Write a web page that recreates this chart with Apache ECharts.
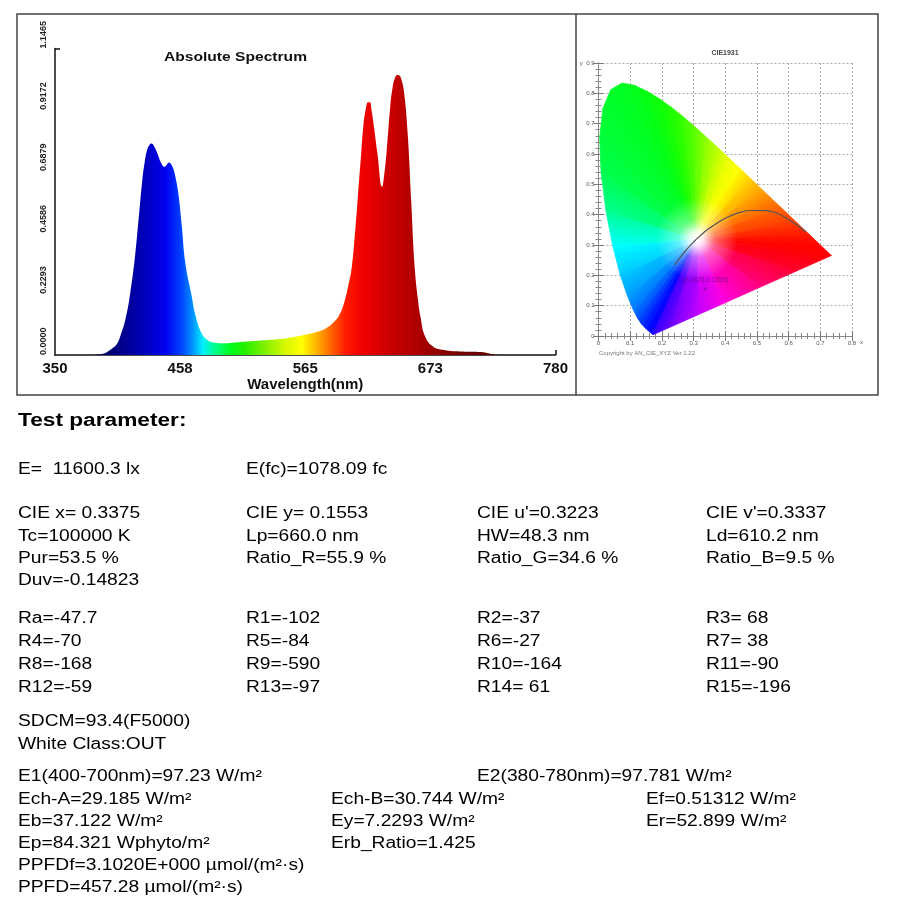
<!DOCTYPE html>
<html>
<head>
<meta charset="utf-8">
<script src="https://cdn.jsdelivr.net/npm/echarts@6/dist/echarts.min.js"></script>
<style>
  html, body { margin: 0; background: #fff; }
  #chart { width: 900px; height: 900px; }
</style>
</head>
<body>
<div id="chart"></div>
<script>
// absolute spectrum: [wavelength nm, value]
const spectrum = [
  [350, 0], [370, 0], [380, 0], [386, 0.002], [392, 0.006], [398, 0.021], [403, 0.04],
  [406, 0.069], [411, 0.143], [415, 0.243], [419, 0.38], [422, 0.517], [425, 0.654],
  [427, 0.72], [429, 0.765], [431, 0.785], [433, 0.791], [435, 0.782], [438, 0.754], [441, 0.72],
  [444, 0.704], [446, 0.712], [448, 0.72], [450, 0.712], [452, 0.692], [454, 0.655], [456, 0.604], [459, 0.48],
  [462, 0.343], [467, 0.23], [471, 0.143], [476, 0.081], [481, 0.056], [487, 0.046],
  [495, 0.044], [505, 0.047], [520, 0.052], [535, 0.057], [550, 0.064], [565, 0.076],
  [575, 0.086], [583, 0.1], [590, 0.125], [594, 0.148], [598, 0.19], [602, 0.26],
  [605, 0.33], [608, 0.47], [610, 0.58], [613, 0.75], [615, 0.86], [617, 0.92], [619, 0.945],
  [620.5, 0.945], [622, 0.915], [624, 0.854], [627, 0.754], [631, 0.629], [633, 0.68], [635, 0.766],
  [638, 0.928], [640, 1.0], [642, 1.035], [644, 1.047], [646, 1.045], [648, 1.025], [650, 0.98], [653, 0.829],
  [656, 0.58], [659, 0.33], [662, 0.2], [664, 0.143], [668, 0.069], [675, 0.031],
  [684, 0.019], [700, 0.013], [716, 0.011], [723, 0.006], [730, 0.001], [740, 0], [780, 0]
];
const xTicks = [350, 457.5, 565, 672.5, 780];
const xTickLabels = ['350', '458', '565', '673', '780'];
const yTicks = [0, 0.2293, 0.4586, 0.6879, 0.9172, 1.1465];
const yTickLabels = ['0.0000', '0.2293', '0.4586', '0.6879', '0.9172', '1.1465'];

// colour of the spectrum fill by wavelength
const specNm = [350, 400, 425, 445, 458, 468, 477, 487, 500, 512, 530, 548, 562, 575, 588, 600, 615, 640, 665, 700, 780];
const specCols = ['#000040', '#000078', '#0000b8', '#0000f0', '#0040ff', '#0090ff', '#00f0ff', '#00ff90', '#00ff20', '#20f000',
  '#80f000', '#d8f800', '#ffff00', '#ffb000', '#ff6000', '#ff1a00', '#f00000', '#c80000', '#a80000', '#700000', '#400000'];

// CIE 1931 spectral locus (380..700 nm) and line of purples
const locusX = [0.1741, 0.1714, 0.1644, 0.1510, 0.1355, 0.1241, 0.1096, 0.0913, 0.0687, 0.0454, 0.0235, 0.0082, 0.0039,
  0.0139, 0.0389, 0.0743, 0.1142, 0.1547, 0.1929, 0.2296, 0.2658, 0.3016, 0.3373, 0.3731, 0.4087, 0.4441, 0.4788,
  0.5125, 0.5448, 0.5752, 0.6270, 0.6658, 0.6915, 0.7190, 0.7347, 0.6226, 0.5105, 0.3983, 0.3143, 0.2302];
const locusY = [0.0050, 0.0051, 0.0109, 0.0227, 0.0399, 0.0578, 0.0868, 0.1327, 0.2007, 0.2950, 0.4127, 0.5384, 0.6548,
  0.7502, 0.8120, 0.8338, 0.8262, 0.8059, 0.7816, 0.7543, 0.7243, 0.6923, 0.6589, 0.6245, 0.5896, 0.5547, 0.5202,
  0.4866, 0.4544, 0.4242, 0.3725, 0.3340, 0.3083, 0.2809, 0.2653, 0.2132, 0.1612, 0.1091, 0.0701, 0.0310];
const locusCols = ['#3000ff', '#2000ff', '#0000ff', '#0010ff', '#0030ff', '#0050ff', '#0078ff', '#00a0ff', '#00c8ff', '#00ffff',
  '#00ff90', '#00ff50', '#00ff38', '#00ff30', '#00ff28', '#00ff20', '#00ff18', '#08ff10', '#10ff08', '#20ff00', '#38ff00',
  '#58ff00', '#88ff00', '#b8ff00', '#e8ff00', '#ffff00', '#ffd000', '#ffa800', '#ff8400', '#ff6400', '#ff3800', '#ff1800',
  '#ff0800', '#ff0000', '#ff0000', '#ff0030', '#ff0080', '#ff00e0', '#c000ff', '#7000ff'];
const whitePt = [0.31, 0.32];

// planckian locus
const planckX = [0.2399, 0.2461, 0.2565, 0.2637, 0.2807, 0.2952, 0.3064, 0.3221, 0.3451, 0.3805, 0.4053, 0.4369, 0.4770, 0.5267, 0.5857, 0.6528];
const planckY = [0.2342, 0.2426, 0.2577, 0.2673, 0.2883, 0.3048, 0.3166, 0.3318, 0.3516, 0.3768, 0.3907, 0.4041, 0.4137, 0.4133, 0.3931, 0.3444];
const testPoint = [0.3375, 0.1553];

// report text
const paramHeader = 'Test parameter:';
const rowE = ['E=  11600.3 lx', 'E(fc)=1078.09 fc'];
const rowsCIE = [
  ['CIE x= 0.3375', 'CIE y= 0.1553', "CIE u'=0.3223", "CIE v'=0.3337"],
  ['Tc=100000 K', 'Lp=660.0 nm', 'HW=48.3 nm', 'Ld=610.2 nm'],
  ['Pur=53.5 %', 'Ratio_R=55.9 %', 'Ratio_G=34.6 %', 'Ratio_B=9.5 %'],
  ['Duv=-0.14823']
];
const rowsR = [
  ['Ra=-47.7', 'R1=-102', 'R2=-37', 'R3= 68'],
  ['R4=-70', 'R5=-84', 'R6=-27', 'R7= 38'],
  ['R8=-168', 'R9=-590', 'R10=-164', 'R11=-90'],
  ['R12=-59', 'R13=-97', 'R14= 61', 'R15=-196']
];
const rowsSDCM = ['SDCM=93.4(F5000)', 'White Class:OUT'];
const rowE12 = ['E1(400-700nm)=97.23 W/m²', 'E2(380-780nm)=97.781 W/m²'];
const rowsEnergy = [
  ['Ech-A=29.185 W/m²', 'Ech-B=30.744 W/m²', 'Ef=0.51312 W/m²'],
  ['Eb=37.122 W/m²', 'Ey=7.2293 W/m²', 'Er=52.899 W/m²'],
  ['Ep=84.321 Wphyto/m²', 'Erb_Ratio=1.425'],
  ['PPFDf=3.1020E+000 µmol/(m²·s)'],
  ['PPFD=457.28 µmol/(m²·s)']
];

const FONT = '"Liberation Sans", Arial, sans-serif';
const chart = echarts.init(document.getElementById('chart'));

function txt(x, y, text, size, bold, sx) {
  return {
    type: 'text', x: x, y: y, scaleX: sx || 1.2, z: 100,
    style: {
      text: text, fontFamily: FONT, fontSize: size, fontWeight: bold ? 'bold' : 'normal',
      fill: '#000', verticalAlign: 'middle', align: 'left'
    }
  };
}

// build report text elements
const col4 = [18, 246, 477, 706];
const col3 = [18, 331, 646];
const texts = [];
texts.push(txt(18, 421, paramHeader, 18, true, 1.26));
rowE.forEach((t, i) => texts.push(txt(col4[i], 470, t, 16)));
rowsCIE.forEach((r, j) => r.forEach((t, i) => texts.push(txt(col4[i], 514 + j * 22.3, t, 16))));
rowsR.forEach((r, j) => r.forEach((t, i) => texts.push(txt(col4[i], 619 + j * 22.7, t, 16))));
rowsSDCM.forEach((t, j) => texts.push(txt(18, 722 + j * 23, t, 16)));
texts.push(txt(col4[0], 777, rowE12[0], 16));
texts.push(txt(col4[2], 777, rowE12[1], 16));
rowsEnergy.forEach((r, j) => r.forEach((t, i) => texts.push(txt(col3[i], 800 + j * 22, t, 16))));

// panel frames and small labels
const frames = [
  {type: 'rect', shape: {x: 17, y: 14, width: 861, height: 381}, style: {fill: 'none', stroke: '#444', lineWidth: 1.5}, z: 90},
  {type: 'line', shape: {x1: 576, y1: 14, x2: 576, y2: 395}, style: {stroke: '#444', lineWidth: 1.5}, z: 90},
  {type: 'text', x: 164, y: 57, scaleX: 1.2, z: 100,
    style: {text: 'Absolute Spectrum', fontFamily: FONT, fontSize: 13, fontWeight: 'bold', fill: '#111', verticalAlign: 'middle'}},
  {type: 'text', x: 725, y: 53, z: 100,
    style: {text: 'CIE1931', fontFamily: FONT, fontSize: 7, fontWeight: 'bold', fill: '#444', align: 'center', verticalAlign: 'middle'}},
  {type: 'text', x: 599, y: 353, z: 100,
    style: {text: 'Copyright by AN_CIE_XYZ Ver 1.22', fontFamily: FONT, fontSize: 6, fill: '#777', verticalAlign: 'middle'}}
];

const specGradient = new echarts.graphic.LinearGradient(0, 0, 1, 0,
  specNm.map((nm, i) => ({offset: (nm - 350) / 430, color: specCols[i]})));

const nearLabel = (ticks, labels) => v => {
  const k = ticks.findIndex(t => Math.abs(t - v) < 1e-6);
  return k < 0 ? '' : labels[k];
};

const cieLabel = v => {
  if (Math.abs(v) < 1e-9) return '0';
  if (Math.abs(v - 0.9) < 1e-6) return 'y  0.9';
  return v.toFixed(1);
};

const cieAxisCommon = {
  type: 'value', gridIndex: 1,
  axisLine: {lineStyle: {color: '#888', width: 1}},
  axisTick: {inside: true, length: 5, lineStyle: {color: '#777'}},
  minorTick: {show: true, splitNumber: 5, length: 3, lineStyle: {color: '#888'}},
  splitLine: {show: true, lineStyle: {color: '#aaa', type: [2, 2], width: 1}}
};

// hue fan: each triangle (white point, p_i, p_i+1) gets an affine gradient
// running from colour i at p_i to colour i+1 at p_i+1
function renderFan(params, api) {
  const i = params.dataIndex;
  const j = (i + 1) % locusX.length;
  const c = api.coord(whitePt);
  const p1 = api.coord([locusX[i], locusY[i]]);
  const p2 = api.coord([locusX[j], locusY[j]]);
  const u = [p2[0] - p1[0], p2[1] - p1[1]];
  const w = [c[0] - p1[0], c[1] - p1[1]];
  const det = u[0] * w[1] - u[1] * w[0];
  const gx = (w[1] - u[1] * 0.5) / det;
  const gy = (u[0] * 0.5 - w[0]) / det;
  const g2 = gx * gx + gy * gy;
  const grad = new echarts.graphic.LinearGradient(p1[0], p1[1], p1[0] + gx / g2, p1[1] + gy / g2, [
    {offset: 0, color: locusCols[i]},
    {offset: 1, color: locusCols[j]}
  ], true);
  return {
    type: 'polygon',
    shape: {points: [c, p1, p2]},
    style: {fill: grad, stroke: grad, lineWidth: 0.8}
  };
}

function renderGlow(params, api) {
  const c = api.coord(whitePt);
  const r = api.size([0.13, 0])[0];
  return {
    type: 'circle',
    shape: {cx: c[0], cy: c[1], r: r},
    style: {
      fill: new echarts.graphic.RadialGradient(c[0], c[1], r, [
        {offset: 0, color: 'rgba(255,255,255,1)'},
        {offset: 0.15, color: 'rgba(255,255,255,0.92)'},
        {offset: 0.45, color: 'rgba(255,255,255,0.38)'},
        {offset: 1, color: 'rgba(255,255,255,0)'}
      ], true)
    }
  };
}

const option = {
  animation: false,
  backgroundColor: '#fff',
  graphic: frames.concat(texts),
  grid: [
    {left: 55, top: 48.5, width: 500.5, height: 306.5},
    {left: 598.5, top: 63, width: 253.5, height: 273}
  ],
  xAxis: [
    {
      type: 'value', gridIndex: 0, min: 350, max: 780,
      name: 'Wavelength(nm)', nameLocation: 'middle', nameGap: 18,
      nameTextStyle: {fontFamily: FONT, fontSize: 15, fontWeight: 'bold', color: '#111'},
      axisLine: {lineStyle: {color: '#111', width: 1.5}},
      axisTick: {show: true, inside: true, length: 5, customValues: [780], lineStyle: {color: '#111', width: 1.5}},
      splitLine: {show: false},
      axisLabel: {customValues: xTicks, formatter: nearLabel(xTicks, xTickLabels), margin: 6,
        fontFamily: FONT, fontSize: 15, fontWeight: 'bold', color: '#111'}
    },
    Object.assign({}, cieAxisCommon, {
      min: 0, max: 0.8, interval: 0.1, position: 'bottom',
      name: 'x', nameLocation: 'end', nameGap: 6,
      nameTextStyle: {fontFamily: FONT, fontSize: 6, color: '#555', verticalAlign: 'top', padding: [3, 0, 0, 0]},
      axisLabel: {formatter: cieLabel, fontFamily: FONT, fontSize: 6, color: '#555', margin: 4}
    }),
    Object.assign({}, cieAxisCommon, {
      min: 0, max: 0.8, interval: 0.1, position: 'top',
      splitLine: {show: false}, axisLabel: {show: false}
    })
  ],
  yAxis: [
    {
      type: 'value', gridIndex: 0, min: 0, max: 1.1465,
      axisLine: {show: true, lineStyle: {color: '#111', width: 1.5}},
      axisTick: {show: true, inside: true, length: 5, customValues: [1.1465], lineStyle: {color: '#111', width: 1.5}},
      splitLine: {show: false},
      axisLabel: {customValues: yTicks, formatter: nearLabel(yTicks, yTickLabels), rotate: 90,
        align: 'left', verticalAlign: 'bottom', margin: 7,
        fontFamily: FONT, fontSize: 9, fontWeight: 'bold', color: '#222'}
    },
    Object.assign({}, cieAxisCommon, {
      min: 0, max: 0.9, interval: 0.1, position: 'left',
      axisLabel: {formatter: cieLabel, fontFamily: FONT, fontSize: 6, color: '#555', margin: 4}
    }),
    Object.assign({}, cieAxisCommon, {
      min: 0, max: 0.9, interval: 0.1, position: 'right',
      splitLine: {show: false}, axisLabel: {show: false}
    })
  ],
  series: [
    {
      type: 'line', xAxisIndex: 0, yAxisIndex: 0,
      data: spectrum, smooth: 0.45, symbol: 'none',
      lineStyle: {width: 0, opacity: 0},
      areaStyle: {color: specGradient, opacity: 1}
    },
    {
      type: 'custom', xAxisIndex: 1, yAxisIndex: 1, silent: true,
      data: locusX.map((x, i) => [x, locusY[i]]),
      renderItem: renderFan
    },
    {
      type: 'custom', xAxisIndex: 1, yAxisIndex: 1, silent: true,
      data: [whitePt],
      renderItem: renderGlow
    },
    {
      type: 'line', xAxisIndex: 1, yAxisIndex: 1,
      data: planckX.map((x, i) => [x, planckY[i]]),
      smooth: 0.4, symbol: 'none',
      lineStyle: {color: '#555', width: 1.2}
    },
    {
      type: 'scatter', xAxisIndex: 1, yAxisIndex: 1, z: 5,
      data: [testPoint],
      symbol: 'path://M0,1L1,0L5,4L9,0L10,1L6,5L10,9L9,10L5,6L1,10L0,9L4,5Z',
      symbolSize: 4,
      itemStyle: {color: '#5a1080'},
      label: {show: true, position: 'top', distance: 3,
        formatter: '(' + testPoint[0].toFixed(4) + ',' + testPoint[1].toFixed(4) + ')',
        fontFamily: FONT, fontSize: 6.5, color: '#5a1080'}
    }
  ]
};

chart.setOption(option);
window.addEventListener('resize', () => chart.resize());
</script>
</body>
</html>
